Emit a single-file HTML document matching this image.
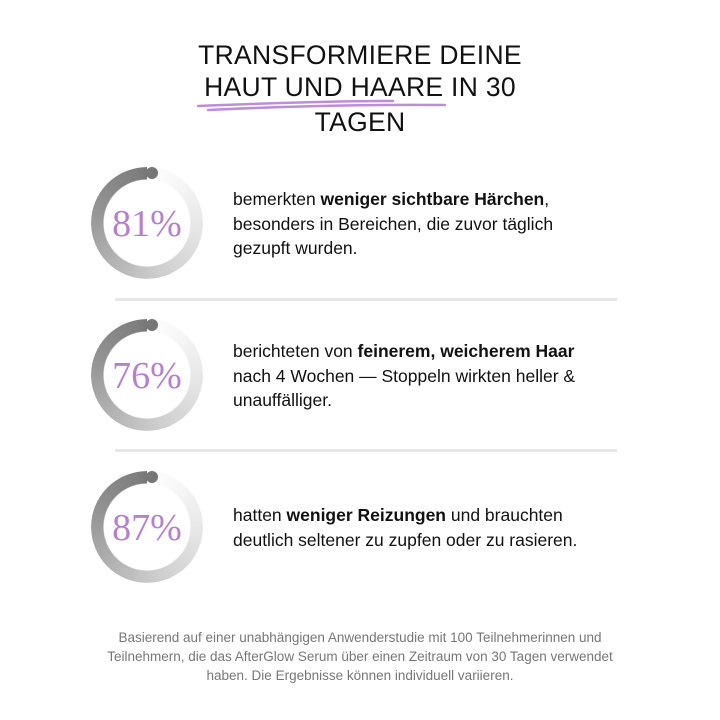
<!DOCTYPE html>
<html><head><meta charset="utf-8"><style>
body{margin:0;width:720px;height:720px;background:#fff;position:relative;overflow:hidden;font-family:"Liberation Sans",sans-serif}
.t{position:absolute;left:0;width:720px;text-align:center;font-size:26.5px;color:#111;letter-spacing:0.3px}
.ring{position:absolute;width:112px;height:112px;border-radius:50%;
background:conic-gradient(from 8deg,#fff 0deg,#f4f4f4 40deg,#e2e2e2 100deg,#cdcdcd 160deg,#b0b0b0 220deg,#939393 280deg,#7e7e7e 340deg,#777 352deg,transparent 352deg);
-webkit-mask:radial-gradient(circle,transparent 43px,#000 44px);mask:radial-gradient(circle,transparent 43px,#000 44px)}
.cap{position:absolute;width:12px;height:12px;border-radius:50%;background:#777}
.num{position:absolute;width:112px;text-align:center;font-family:"Liberation Serif",serif;font-size:38px;color:#b77fd2}
.tx{position:absolute;left:233px;font-size:17.5px;line-height:24.5px;color:#111}
.div{position:absolute;left:115px;width:502px;height:3px;background:#e6e6e6}
.foot{position:absolute;left:0;width:720px;top:628px;text-align:center;font-size:13.5px;line-height:19px;color:#777}
</style></head><body>
<div class="t" style="top:40px">TRANSFORMIERE DEINE</div>
<div class="t" style="top:72px">HAUT UND HAARE IN 30</div>
<div class="t" style="top:107px">TAGEN</div>
<svg style="position:absolute;left:0;top:0" width="720" height="140">
<path d="M198 106 Q320 101 393 101" stroke="#b07ad0" stroke-width="2.5" fill="none" stroke-linecap="round" opacity=".85"/>
<path d="M208 110 Q330 104 445 105" stroke="#b07ad0" stroke-width="2.5" fill="none" stroke-linecap="round" opacity=".85"/>
</svg>

<div class="ring" style="left:91px;top:167px"></div><div class="cap" style="left:146px;top:167px"></div>
<div class="num" style="left:91px;top:202px">81%</div>
<div class="tx" style="top:187px">bemerkten <b>weniger sichtbare Härchen</b>,<br>besonders in Bereichen, die zuvor täglich<br>gezupft wurden.</div>
<div class="div" style="top:298px"></div>

<div class="ring" style="left:91px;top:319px"></div><div class="cap" style="left:146px;top:319px"></div>
<div class="num" style="left:91px;top:354px">76%</div>
<div class="tx" style="top:339px">berichteten von <b>feinerem, weicherem Haar</b><br>nach 4 Wochen — Stoppeln wirkten heller &amp;<br>unauffälliger.</div>
<div class="div" style="top:449px"></div>

<div class="ring" style="left:91px;top:471px"></div><div class="cap" style="left:146px;top:471px"></div>
<div class="num" style="left:91px;top:506px">87%</div>
<div class="tx" style="top:503px">hatten <b>weniger Reizungen</b> und brauchten<br>deutlich seltener zu zupfen oder zu rasieren.</div>

<div class="foot">Basierend auf einer unabhängigen Anwenderstudie mit 100 Teilnehmerinnen und<br>Teilnehmern, die das AfterGlow Serum über einen Zeitraum von 30 Tagen verwendet<br>haben. Die Ergebnisse können individuell variieren.</div>
</body></html>
